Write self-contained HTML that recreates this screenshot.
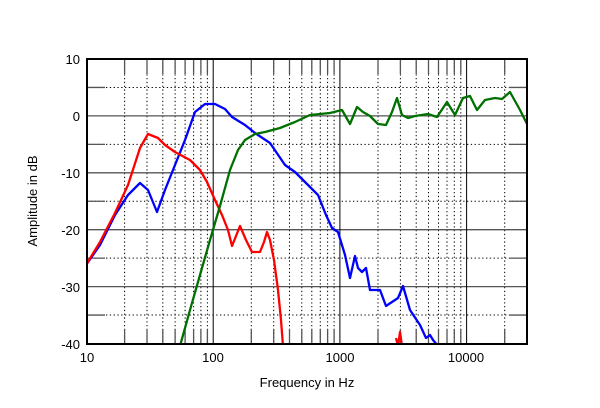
<!DOCTYPE html>
<html><head><style>body{margin:0;background:#fff}svg{display:block}</style></head><body>
<svg width="600" height="408" xmlns="http://www.w3.org/2000/svg" font-family="Liberation Sans, sans-serif">
<rect width="600" height="408" fill="#fff"/>
<g fill="none">
<path stroke="#000" stroke-width="1" stroke-dasharray="1.3,2.5" d="M124.6 59V344M147 59V344M162.8 59V344M175.1 59V344M185.1 59V344M193.6 59V344M200.9 59V344M207.4 59V344M251.3 59V344M273.7 59V344M289.5 59V344M301.8 59V344M311.8 59V344M320.3 59V344M327.6 59V344M334.1 59V344M378 59V344M400.4 59V344M416.2 59V344M428.5 59V344M438.5 59V344M447 59V344M454.3 59V344M460.8 59V344M504.7 59V344M87 87.45H527M87 144.35H527M87 201.25H527M87 258.15H527M87 315.05H527"/>
<path stroke="#555" stroke-width="1.3" d="M124.6 59V74M147 59V74M162.8 59V74M175.1 59V74M185.1 59V74M193.6 59V74M200.9 59V74M207.4 59V74M251.3 59V74M273.7 59V74M289.5 59V74M301.8 59V74M311.8 59V74M320.3 59V74M327.6 59V74M334.1 59V74M378 59V74M400.4 59V74M416.2 59V74M428.5 59V74M438.5 59V74M447 59V74M454.3 59V74M460.8 59V74M504.7 59V74M124.6 329V344M147 329V344M162.8 329V344M175.1 329V344M185.1 329V344M193.6 329V344M200.9 329V344M207.4 329V344M251.3 329V344M273.7 329V344M289.5 329V344M301.8 329V344M311.8 329V344M320.3 329V344M327.6 329V344M334.1 329V344M378 329V344M400.4 329V344M416.2 329V344M428.5 329V344M438.5 329V344M447 329V344M454.3 329V344M460.8 329V344M504.7 329V344M87 87.45H105M509 87.45H527M87 144.35H105M509 144.35H527M87 201.25H105M509 201.25H527M87 258.15H105M509 258.15H527M87 315.05H105M509 315.05H527M87 115.9H527M87 172.8H527M87 229.7H527M87 286.6H527"/>
<path stroke="#000" stroke-width="1" d="M213.2 59V344M339.9 59V344M466.6 59V344"/>
</g>
<defs><clipPath id="c"><rect x="87" y="59" width="440" height="285"/></clipPath></defs>
<g clip-path="url(#c)" fill="none" stroke-width="2.3" stroke-linejoin="round">
<polyline stroke="#0000ff" points="86,265 100,245 115,215 128,195 140,183 148,190 157,212 165,190 175,165 185,140 195,112 205,104 215,104 225,109 232,117 245,125 255,133 270,143 285,165 295,172 305,182 318,195 326,215 332,228 338,232 345,255 350,278 355,256 358,268 362,272 366,268 370,290 380,290 386,306 392,302 398,298 403,286 410,310 420,325 426,338 430,335 433,340 438,346"/>
<polyline stroke="#ff0000" points="86,265 100,242 115,213 128,185 140,148 148,134 158,138 165,145 175,152 190,160 200,170 207,182 215,200 222,215 228,230 232,246 236,236 240,226 246,240 252,252 260,252 264,242 267,232 270,240 274,260 278,290 281,320 283,346"/>
<polyline stroke="#ff0000" points="396,338 398,346 400,332 402,346"/>
<polyline stroke="#007000" points="180,346 190,310 200,275 210,240 220,206 230,170 238,150 245,140 255,134 265,132 280,128 295,122 310,115 330,113 342,110 350,124 357,107 363,112 370,116 378,124 386,125 392,112 397,98 402,115 408,118 415,116 428,114 437,117 447,102 455,115 463,98 470,96 477,110 485,100 495,98 502,99 510,92 520,110 527,124"/>
</g>
<rect x="87" y="59" width="440" height="285" fill="none" stroke="#000" stroke-width="2"/>
<g font-size="13" fill="#000" text-anchor="end">
<text x="80" y="64">10</text><text x="80" y="121">0</text><text x="80" y="178">-10</text><text x="80" y="235">-20</text><text x="80" y="292">-30</text><text x="80" y="349">-40</text>
</g>
<g font-size="13" fill="#000" text-anchor="middle">
<text x="87" y="362">10</text><text x="213" y="362">100</text><text x="340" y="362">1000</text><text x="466" y="362">10000</text>
<text x="307" y="387">Frequency in Hz</text>
<text transform="translate(37,201) rotate(-90)">Amplitude in dB</text>
</g>
</svg>
</body></html>
